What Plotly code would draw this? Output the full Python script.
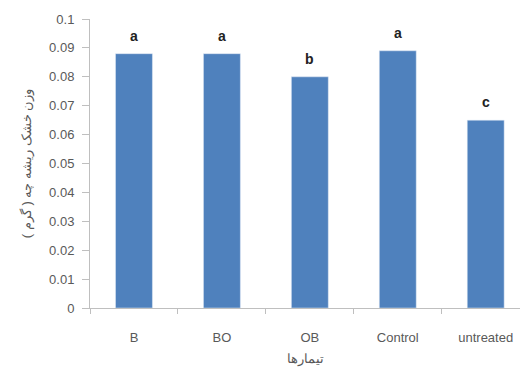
import plotly.graph_objects as go

categories = ["B", "BO", "OB", "Control", "untreated"]
values = [0.088, 0.088, 0.080, 0.089, 0.065]
letters = ["a", "a", "b", "a", "c"]
y_ticks = [0, 0.01, 0.02, 0.03, 0.04, 0.05, 0.06, 0.07, 0.08, 0.09, 0.1]
y_tick_labels = ["0", "0.01", "0.02", "0.03", "0.04", "0.05", "0.06", "0.07", "0.08", "0.09", "0.1"]

fig = go.Figure()
fig.add_trace(go.Bar(x=categories, y=values, marker_color="#4f81bd", width=0.42))

for c, v, l in zip(categories, values, letters):
    fig.add_annotation(x=c, y=v, text="<b>" + l + "</b>", showarrow=False,
                       yshift=18, font=dict(size=14, color="#222222", family="Arial"))

fig.update_layout(
    width=520, height=369,
    margin=dict(l=90, r=0, t=19, b=61, autoexpand=False),
    paper_bgcolor="white", plot_bgcolor="white",
    font=dict(family="Arial", color="#595959", size=13),
    showlegend=False,
)
fig.update_xaxes(
    range=[-0.5, 4.39],
    showline=True, linecolor="#bfbfbf", linewidth=1,
    ticks="outside", tickson="boundaries", ticklen=5, tickcolor="#bfbfbf",
    ticklabelstandoff=17,
    tickfont=dict(size=13, color="#595959"),
    title=dict(text="تیمارها", font=dict(size=13, color="#595959"), standoff=10),
    automargin=False,
)
fig.update_yaxes(
    range=[0, 0.1], tickvals=y_ticks, ticktext=y_tick_labels,
    showline=True, linecolor="#bfbfbf", linewidth=1,
    ticks="outside", ticklen=7, tickcolor="#bfbfbf",
    ticklabelstandoff=5,
    showgrid=False, zeroline=False,
    tickfont=dict(size=13, color="#595959"),
    title=dict(text="وزن خشک ریشه چه ( گرم )", font=dict(size=13, color="#595959"), standoff=14),
    automargin=False,
)

fig.write_html("out.html", post_script="document.body.style.margin='0';",
               config={"displayModeBar": False})
